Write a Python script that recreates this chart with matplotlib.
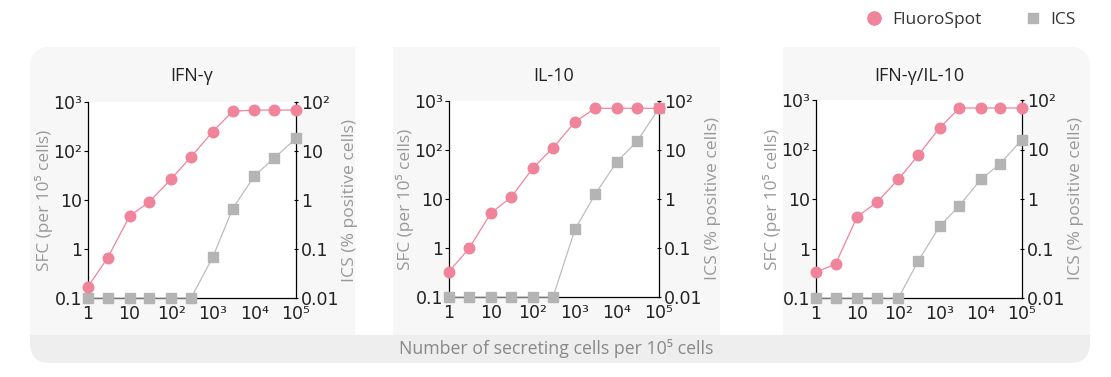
import matplotlib.pyplot as plt
from matplotlib.patches import FancyBboxPatch, Rectangle
from matplotlib.lines import Line2D
from matplotlib.ticker import FixedLocator, FixedFormatter, NullLocator

# data
cells = [1, 3, 10, 30, 100, 300, 1000, 3000, 10000, 30000, 100000]
titles = ["IFN-γ", "IL-10", "IFN-γ/IL-10"]

fluoro_ifng = [0.17, 0.67, 4.7, 9.2, 27, 76, 250, 645, 685, 685, 685]
fluoro_il10 = [0.33, 0.98, 5.2, 10.8, 43, 111, 374, 710, 710, 710, 710]
fluoro_dual = [0.33, 0.49, 4.4, 8.6, 25, 76, 273, 690, 690, 690, 690]

ics_ifng = [0.01, 0.01, 0.01, 0.01, 0.01, 0.01, 0.068, 0.665, 3.1, 7.2, 18]
ics_il10 = [0.01, 0.01, 0.01, 0.01, 0.01, 0.01, 0.24, 1.24, 5.8, 15, 71]
ics_dual = [0.01, 0.01, 0.01, 0.01, 0.01, 0.055, 0.28, 0.73, 2.5, 5.2, 15.9]

fluoro = [fluoro_ifng, fluoro_il10, fluoro_dual]
ics = [ics_ifng, ics_il10, ics_dual]

x_ticks = [1, 10, 100, 1000, 10000, 100000]
x_labels = ["1", "10", "10²", "10³", "10⁴", "10⁵"]
left_ticks = [0.1, 1, 10, 100, 1000]
left_labels = ["0.1", "1", "10", "10²", "10³"]
right_ticks = [0.01, 0.1, 1, 10, 100]
right_labels = ["0.01", "0.1", "1", "10", "10²"]

PINK = "#f0849a"
GRAY = "#b4b4b4"
GRAY_LINE = "#bdbdbd"
PANEL = "#f7f7f7"
BAND = "#eeeeee"
TXT = "#222222"
LBL = "#999999"
SANS = ["Open Sans", "DejaVu Sans"]

W, H = 1111, 377
fig = plt.figure(figsize=(W / 100, H / 100), dpi=100)


def fx(px):
    return px / W


def fy(py):
    return 1 - py / H


def rounded(x0, y0, x1, y1, color, clip, r=20):
    # rounded box in pixel coords, clipped to a plain rectangle
    p = FancyBboxPatch((fx(x0), fy(y1)), fx(x1 - x0), (y1 - y0) / H,
                       boxstyle=f"round,pad=0,rounding_size={r / W}",
                       transform=fig.transFigure, fc=color, ec="none",
                       mutation_aspect=W / H, zorder=0)
    fig.add_artist(p)
    cx0, cy0, cx1, cy1 = clip
    c = Rectangle((fx(cx0), fy(cy1)), fx(cx1 - cx0), (cy1 - cy0) / H,
                  transform=fig.transFigure)
    p.set_clip_path(c)


# background panels
rounded(30, 47, 395, 375, PANEL, (30, 47, 355, 335))
fig.add_artist(Rectangle((fx(393), fy(335)), fx(720 - 393), (335 - 47) / H,
                         transform=fig.transFigure, fc=PANEL, ec="none", zorder=0))
rounded(743, 47, 1090, 375, PANEL, (783, 47, 1090, 335))
rounded(30, 290, 1090, 363, BAND, (30, 335, 1090, 363))

axes_px = [(88, 102, 296, 298), (449, 101, 659, 297), (816, 100, 1022, 298)]

for i in range(3):
    x0, y0, x1, y1 = axes_px[i]
    ax = fig.add_axes([fx(x0), fy(y1), fx(x1 - x0), (y1 - y0) / H])
    ax.set_facecolor("white")
    ax.set_xscale("log")
    ax.set_yscale("log")
    ax.set_xlim(1, 1e5)
    ax.set_ylim(0.1, 1000)

    ax2 = ax.twinx()
    ax2.set_yscale("log")
    ax2.set_ylim(0.01, 100)

    ax2.plot(cells, ics[i], color=GRAY_LINE, lw=0.9, marker="s", ms=7.2,
             mfc=GRAY, mec=GRAY, clip_on=False, zorder=3)
    ax2.plot(cells, fluoro[i], color=PINK, lw=0.9, marker="o", ms=7.6,
             mfc=PINK, mec=PINK, clip_on=False, zorder=4,
             transform=ax.transData)

    ax.xaxis.set_major_locator(FixedLocator(x_ticks))
    ax.xaxis.set_major_formatter(FixedFormatter(x_labels))
    ax.xaxis.set_minor_locator(NullLocator())
    ax.yaxis.set_major_locator(FixedLocator(left_ticks))
    ax.yaxis.set_major_formatter(FixedFormatter(left_labels))
    ax.yaxis.set_minor_locator(NullLocator())
    ax2.yaxis.set_major_locator(FixedLocator(right_ticks))
    ax2.yaxis.set_major_formatter(FixedFormatter(right_labels))
    ax2.yaxis.set_minor_locator(NullLocator())

    ax.tick_params(axis="x", length=0, pad=5, labelsize=12.5, labelcolor=TXT)
    ax.tick_params(axis="y", length=3, width=0.8, pad=1, labelsize=12.5,
                   labelcolor=TXT, direction="out")
    ax2.tick_params(axis="y", length=3, width=0.8, pad=2, labelsize=12.5,
                    labelcolor=TXT, direction="inout")

    for a in (ax, ax2):
        a.spines["top"].set_visible(False)
        for s in ("left", "right", "bottom"):
            a.spines[s].set_linewidth(0.9)
            a.spines[s].set_color("black")
    ax2.spines["left"].set_visible(False)
    ax2.spines["bottom"].set_visible(False)
    ax.spines["right"].set_visible(False)

    ax.set_ylabel("SFC (per 10⁵ cells)", color=LBL, fontsize=12.4,
                  family=SANS, labelpad=0)
    ax2.set_ylabel("ICS (% positive cells)", color=LBL, fontsize=12.6,
                   family=SANS, labelpad=2)

    fig.text(fx((x0 + x1) / 2), fy(76), titles[i], ha="center", va="center",
             fontsize=13, color=TXT, family=SANS)

fig.text(fx(556), fy(349), "Number of secreting cells per 10⁵ cells",
         ha="center", va="center", fontsize=12.8, color="#888888", family=SANS)

handles = [
    Line2D([], [], ls="none", marker="o", ms=9.5, mfc=PINK, mec=PINK),
    Line2D([], [], ls="none", marker="s", ms=7.5, mfc=GRAY, mec=GRAY),
]
fig.legend(handles, ["FluoroSpot", "ICS"], loc="center right", ncol=2,
           bbox_to_anchor=(fx(1076), fy(20)), frameon=False,
           borderaxespad=0, borderpad=0,
           prop={"family": SANS, "size": 12.5}, handlelength=0.8,
           handletextpad=0.6, columnspacing=2.6, labelcolor="#333333")

fig.savefig("out.png", dpi=100)
